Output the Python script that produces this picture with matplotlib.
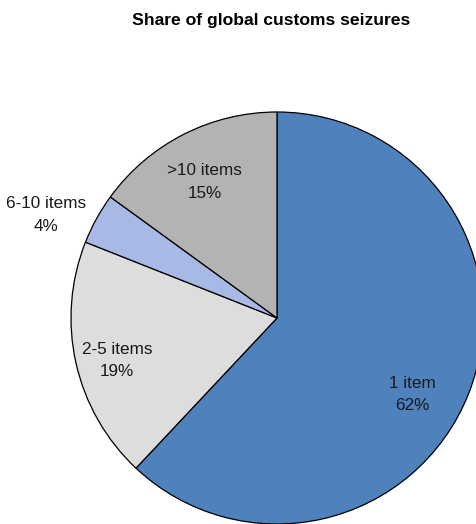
import matplotlib
matplotlib.use("Agg")
import matplotlib.pyplot as plt

plt.rcParams['font.family'] = ['Liberation Sans Narrow', 'Liberation Sans', 'DejaVu Sans']

labels = ["1 item", "2-5 items", "6-10 items", ">10 items"]
shares = [62, 19, 4, 15]
colors = ["#4F81BD", "#DDDDDD", "#A7B9E4", "#B3B3B3"]

# label centres, in pie-radius units
label_pos = [(0.655, -0.37), (-0.777, -0.205), (-1.12, 0.50), (-0.35, 0.66)]

fig = plt.figure(figsize=(4.76, 5.24), dpi=100)
ax = fig.add_axes([0, 0, 1, 1])

ax.pie(shares, colors=colors, startangle=90, counterclock=False, radius=1,
       wedgeprops=dict(edgecolor="black", linewidth=0.9))

for lab, val, (x, y) in zip(labels, shares, label_pos):
    ax.text(x, y, "%s\n%d%%" % (lab, val), ha="center", va="center",
            fontsize=12.3, linespacing=1.6, color="#1a1a1a")

ax.set_xlim(-277 / 206, 199 / 206)
ax.set_ylim(-1.0, 318 / 206)
ax.set_aspect("equal")
ax.axis("off")

fig.text(0.570, 0.961, "Share of global customs seizures", ha="center", va="center",
         fontsize=12.6, fontweight="bold")

fig.savefig("out.png", dpi=100)
